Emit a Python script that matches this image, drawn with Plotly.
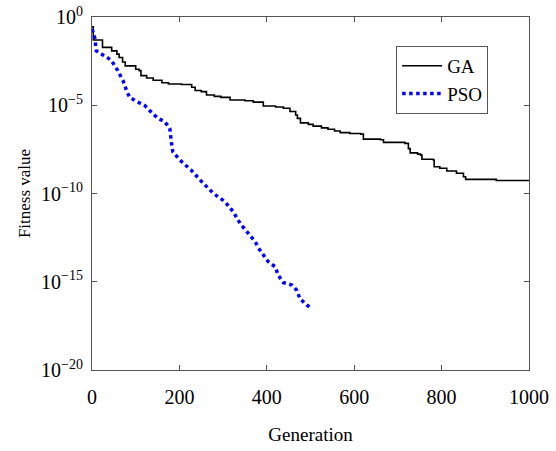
import plotly.graph_objects as go

ga_gen = [0, 3, 24, 45, 57, 62, 70, 76, 100, 108, 112, 125, 140, 160, 175, 205, 228, 236, 250, 262,
          280, 295, 316, 350, 369, 392, 420, 438, 453, 466, 470, 477, 495, 506, 525, 540, 555, 568,
          590, 615, 621, 660, 667, 716, 724, 728, 745, 752, 755, 781, 783, 796, 812, 834, 850, 855,
          925, 1000]
ga_fit = [2.8e-1, 5.0e-2, 1.9e-2, 1.2e-2, 7.9e-3, 5.1e-3, 2.8e-3, 1.7e-3, 1.1e-3, 9.1e-4, 4.8e-4,
          3.5e-4, 2.6e-4, 1.9e-4, 1.6e-4, 1.5e-4, 1.05e-4, 6.8e-5, 5.9e-5, 3.8e-5, 3.2e-5, 2.8e-5,
          2.0e-5, 1.8e-5, 1.5e-5, 9.1e-6, 7.9e-6, 6.8e-6, 4.4e-6, 2.8e-6, 1.8e-6, 1.0e-6, 8.3e-7,
          6.6e-7, 5.2e-7, 4.4e-7, 3.5e-7, 2.8e-7, 2.5e-7, 2.3e-7, 1.2e-7, 1.1e-7, 7.9e-8, 6.9e-8,
          3.5e-8, 2.0e-8, 1.7e-8, 1.5e-8, 8.7e-9, 7.9e-9, 3.3e-9, 2.7e-9, 1.9e-9, 1.4e-9, 8.9e-10,
          6.3e-10, 5.4e-10, 5.4e-10]

pso_gen = [0, 6, 10, 29, 44, 59, 71, 79, 86, 101, 121, 136, 151, 166, 178, 182, 185, 201, 227, 250,
           278, 304, 323, 339, 354, 373, 384, 403, 419, 426, 438, 457, 468, 476, 491, 500]
pso_fit = [2.1e-1, 7.1e-2, 1.2e-2, 6.5e-3, 3.6e-3, 9.1e-4, 2.5e-4, 6.8e-5, 2.8e-5, 1.7e-5, 9.5e-6,
           4.0e-6, 1.8e-6, 1.2e-6, 4.9e-7, 6.9e-8, 2.3e-8, 7.9e-9, 2.1e-9, 5.0e-10, 1.0e-10, 3.5e-11,
           9.3e-12, 2.0e-12, 6.9e-13, 1.9e-13, 6.3e-14, 1.4e-14, 7.1e-15, 2.4e-15, 8.9e-16, 6.6e-16,
           3.4e-16, 1.1e-16, 4.8e-17, 3.5e-17]

x_ticks = [0, 200, 400, 600, 800, 1000]
y_ticks = [1e0, 1e-5, 1e-10, 1e-15, 1e-20]
y_tick_text = ["10<sup>0</sup>", "10<sup>\u22125</sup>", "10<sup>\u221210</sup>",
               "10<sup>\u221215</sup>", "10<sup>\u221220</sup>"]

font = "Liberation Serif"

fig = go.Figure()
fig.add_trace(go.Scatter(x=ga_gen, y=ga_fit, name="GA", mode="lines", line_shape="hv",
                         line=dict(color="black", width=1.6)))
fig.add_trace(go.Scatter(x=pso_gen, y=pso_fit, name="PSO", mode="lines",
                         line=dict(color="#0000ff", width=3.5, dash="dot")))

axis_common = dict(showline=True, linecolor="#555555", linewidth=1, mirror="ticks",
                   ticks="inside", ticklen=5, tickcolor="#555555", showgrid=False,
                   zeroline=False, automargin=False,
                   tickfont=dict(family=font, size=20, color="black"))

fig.update_xaxes(range=[0, 1000], tickvals=x_ticks, ticklabelstandoff=9,
                 title=dict(text="Generation", font=dict(family=font, size=19, color="black"), standoff=20),
                 **axis_common)
fig.update_yaxes(type="log", range=[-20, 0], tickvals=y_ticks, ticktext=y_tick_text,
                 ticklabelstandoff=4,
                 title=dict(text="Fitness value", font=dict(family=font, size=17, color="black"), standoff=6),
                 **axis_common)

fig.update_layout(
    width=556, height=451,
    margin=dict(l=92, r=27, t=17, b=81, autoexpand=False),
    paper_bgcolor="white", plot_bgcolor="white",
    font=dict(family=font, color="black"),
    legend=dict(x=0.696, y=0.918, xanchor="left", yanchor="top",
                bordercolor="#555555", borderwidth=1, bgcolor="white",
                font=dict(family=font, size=19, color="black"),
                tracegroupgap=0, itemwidth=40),
    showlegend=True,
)

fig.write_html("out.html", config={"displayModeBar": False},
               post_script="document.body.style.margin='0';document.body.style.overflow='hidden';")
